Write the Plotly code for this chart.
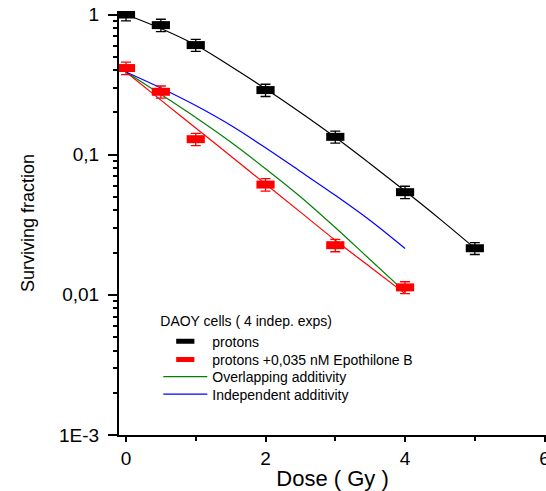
import plotly.graph_objects as go

# ---- data ----
dose_pts = [0, 0.5, 1, 2, 3, 4, 5]
sf_protons = [1.0, 0.84, 0.605, 0.289, 0.134, 0.054, 0.0215]
err_protons = [0.1, 0.085, 0.06, 0.029, 0.013, 0.0055, 0.0021]

dose_pts_epo = [0, 0.5, 1, 2, 3, 4]
sf_epo = [0.415, 0.281, 0.129, 0.0612, 0.0226, 0.0113]
err_epo = [0.042, 0.028, 0.013, 0.0062, 0.0023, 0.0011]

fit_dose_p = [0, 0.5, 1, 1.5, 2, 2.5, 3, 3.5, 4, 4.5, 5]
fit_protons = [1.0, 0.794, 0.605, 0.427, 0.295, 0.200, 0.133, 0.0861, 0.0550, 0.0347, 0.0215]

fit_dose = [0, 0.5, 1, 1.5, 2, 2.5, 3, 3.5, 4]
fit_epo = [0.389, 0.245, 0.155, 0.0978, 0.0617, 0.0389, 0.0245, 0.0158, 0.0102]
overlapping = [0.389, 0.269, 0.184, 0.123, 0.0794, 0.0501, 0.0302, 0.0178, 0.0105]
independent = [0.389, 0.299, 0.224, 0.162, 0.112, 0.0759, 0.0513, 0.0339, 0.0214]

y_tickvals = [0.001, 0.01, 0.1, 1]
y_ticktext = ["1E-3", "0,01", "0,1", "1"]
y_minor = [m * 10 ** e for e in (-3, -2, -1) for m in range(2, 10)]
x_tickvals = [0, 2, 4, 6]
x_ticktext = ["0", "2", "4", "6"]
x_minor = [1, 3, 5]

FONT = "Liberation Sans, Arial, sans-serif"
LEG_FONT = dict(size=14, family=FONT, color="black")

fig = go.Figure()

fig.add_trace(go.Scatter(x=fit_dose_p, y=fit_protons, mode="lines",
                         line=dict(color="black", width=1.2, shape="spline"),
                         showlegend=False, hoverinfo="skip"))
fig.add_trace(go.Scatter(x=fit_dose, y=fit_epo, mode="lines",
                         line=dict(color="#ff0000", width=1.2, shape="spline"),
                         showlegend=False, hoverinfo="skip"))
fig.add_trace(go.Scatter(x=fit_dose, y=overlapping, mode="lines",
                         name="Overlapping additivity", legend="legend3",
                         line=dict(color="#008000", width=1.2, shape="spline")))
fig.add_trace(go.Scatter(x=fit_dose, y=independent, mode="lines",
                         name="Independent additivity", legend="legend4",
                         line=dict(color="#0000ff", width=1.2, shape="spline")))

fig.add_trace(go.Scatter(x=dose_pts, y=sf_protons, mode="markers", name="protons",
                         legend="legend",
                         marker=dict(symbol="line-ew", size=13, color="black",
                                     line=dict(color="black", width=8)),
                         error_y=dict(type="data", array=err_protons, color="black",
                                      thickness=1.3, width=5)))
fig.add_trace(go.Scatter(x=dose_pts_epo, y=sf_epo, mode="markers",
                         name="protons +0,035 nM Epothilone B", legend="legend2",
                         marker=dict(symbol="line-ew", size=13, color="#ff0000",
                                     line=dict(color="#ff0000", width=8)),
                         error_y=dict(type="data", array=err_epo, color="#ff0000",
                                      thickness=1.3, width=5)))


def row(y):
    return dict(x=0.092, y=y, xanchor="left", yanchor="middle",
                bgcolor="rgba(0,0,0,0)", font=LEG_FONT, itemwidth=44)


leg1 = row(0.301)
leg1.update(yanchor="top", title=dict(text="DAOY cells ( 4 indep. exps)", font=LEG_FONT))

fig.update_layout(
    width=546, height=491,
    margin=dict(l=119, r=0, t=11, b=56, autoexpand=False),
    plot_bgcolor="white", paper_bgcolor="white",
    font=dict(family=FONT, color="black", size=16),
    legend=leg1,
    legend2=row(0.177),
    legend3=row(0.1365),
    legend4=row(0.0955),
    xaxis=dict(
        range=[-0.1, 6.02], showline=True, linecolor="black", linewidth=2,
        showgrid=False, zeroline=False,
        tickvals=x_tickvals, ticktext=x_ticktext, ticks="outside", ticklen=5,
        tickwidth=1.5, tickcolor="black", tickfont=dict(size=19),
        ticklabeloverflow="allow",
        minor=dict(tickvals=x_minor, ticks="outside", ticklen=4, tickwidth=1.5,
                   tickcolor="black"),
        title=dict(text="Dose ( Gy )", font=dict(size=22), standoff=6),
    ),
    yaxis=dict(
        type="log", range=[-3, 0.025], showline=True, linecolor="black", linewidth=2,
        showgrid=False, zeroline=False,
        tickvals=y_tickvals, ticktext=y_ticktext, ticks="outside", ticklen=9,
        tickwidth=1.5, tickcolor="black", tickfont=dict(size=19),
        ticklabelstandoff=5,
        minor=dict(tickvals=y_minor, ticks="outside", ticklen=4, tickwidth=1.5,
                   tickcolor="black"),
        title=dict(text="Surviving fraction", font=dict(size=18), standoff=20),
    ),
)

fig.write_html("out.html")
